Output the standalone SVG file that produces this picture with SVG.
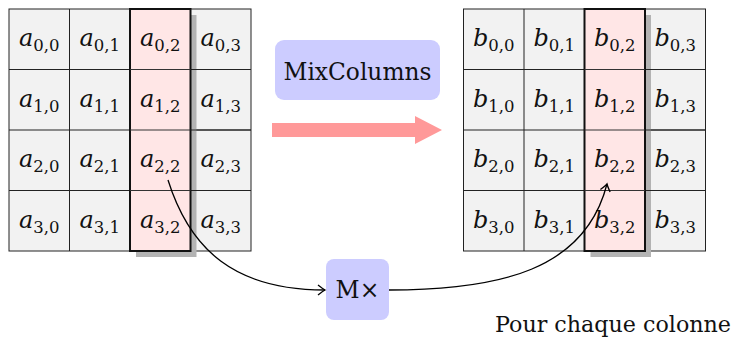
<svg xmlns="http://www.w3.org/2000/svg" width="735" height="340" viewBox="0 0 735 340">
<style>
.cell{fill:#f2f2f2;stroke:#222;stroke-width:1}
.hl{fill:#ffe6e6;stroke:#111;stroke-width:2}
.sh{fill:#b3b3b3}
.lab{font-family:'DejaVu Serif',serif;font-size:24px;text-anchor:middle;fill:#111}
.v{font-style:italic}
.s{font-size:16.5px}
.box{fill:#ccccff}
.bt{font-family:'DejaVu Serif',serif;font-size:23.5px;text-anchor:middle;fill:#111}
.con{fill:none;stroke:#000;stroke-width:1.3}
</style>
<defs>
<marker id="ah" markerUnits="userSpaceOnUse" markerWidth="14" markerHeight="14" viewBox="-8 -7 10 14" refX="0" refY="0" orient="auto">
<path d="M-7,-5 Q-2,-1 0,0 Q-2,1 -7,5" fill="none" stroke="#000" stroke-width="1.3"/>
</marker>
</defs>
<rect width="735" height="340" fill="#fff"/>
<g id="gridA">
<rect class="cell" x="9" y="9" width="242" height="242"/>
<path d="M69.5,9V251M130,9V251M190.5,9V251M9,69.5H251M9,130H251M9,190.5H251" stroke="#222" stroke-width="1" fill="none"/>
<rect class="sh" x="136" y="15" width="60.5" height="242"/>
<path d="M190.5,69.5H251M190.5,130H251M190.5,190.5H251" stroke="#222" stroke-width="1"/>
<rect class="hl" x="130" y="9" width="60.5" height="242"/>
<path d="M130,69.5H190.5M130,130H190.5M130,190.5H190.5" stroke="#333" stroke-width="1"/>
</g>
<g id="labelsA">
<text class="lab" x="39.25" y="46"><tspan class="v">a</tspan><tspan class="s" dy="5">0,0</tspan></text>
<text class="lab" x="99.75" y="46"><tspan class="v">a</tspan><tspan class="s" dy="5">0,1</tspan></text>
<text class="lab" x="160.25" y="46"><tspan class="v">a</tspan><tspan class="s" dy="5">0,2</tspan></text>
<text class="lab" x="220.75" y="46"><tspan class="v">a</tspan><tspan class="s" dy="5">0,3</tspan></text>
<text class="lab" x="39.25" y="106.5"><tspan class="v">a</tspan><tspan class="s" dy="5">1,0</tspan></text>
<text class="lab" x="99.75" y="106.5"><tspan class="v">a</tspan><tspan class="s" dy="5">1,1</tspan></text>
<text class="lab" x="160.25" y="106.5"><tspan class="v">a</tspan><tspan class="s" dy="5">1,2</tspan></text>
<text class="lab" x="220.75" y="106.5"><tspan class="v">a</tspan><tspan class="s" dy="5">1,3</tspan></text>
<text class="lab" x="39.25" y="167"><tspan class="v">a</tspan><tspan class="s" dy="5">2,0</tspan></text>
<text class="lab" x="99.75" y="167"><tspan class="v">a</tspan><tspan class="s" dy="5">2,1</tspan></text>
<text class="lab" x="160.25" y="167"><tspan class="v">a</tspan><tspan class="s" dy="5">2,2</tspan></text>
<text class="lab" x="220.75" y="167"><tspan class="v">a</tspan><tspan class="s" dy="5">2,3</tspan></text>
<text class="lab" x="39.25" y="227.5"><tspan class="v">a</tspan><tspan class="s" dy="5">3,0</tspan></text>
<text class="lab" x="99.75" y="227.5"><tspan class="v">a</tspan><tspan class="s" dy="5">3,1</tspan></text>
<text class="lab" x="160.25" y="227.5"><tspan class="v">a</tspan><tspan class="s" dy="5">3,2</tspan></text>
<text class="lab" x="220.75" y="227.5"><tspan class="v">a</tspan><tspan class="s" dy="5">3,3</tspan></text>
</g>
<g id="gridB">
<rect class="cell" x="463.5" y="9" width="242" height="242"/>
<path d="M524,9V251M584.5,9V251M645,9V251M463.5,69.5H705.5M463.5,130H705.5M463.5,190.5H705.5" stroke="#222" stroke-width="1" fill="none"/>
<rect class="sh" x="590.5" y="15" width="60.5" height="242"/>
<path d="M645,69.5H705.5M645,130H705.5M645,190.5H705.5" stroke="#222" stroke-width="1"/>
<rect class="hl" x="584.5" y="9" width="60.5" height="242"/>
<path d="M584.5,69.5H645M584.5,130H645M584.5,190.5H645" stroke="#333" stroke-width="1"/>
</g>
<g id="labelsB">
<text class="lab" x="493.75" y="46"><tspan class="v">b</tspan><tspan class="s" dy="5">0,0</tspan></text>
<text class="lab" x="554.25" y="46"><tspan class="v">b</tspan><tspan class="s" dy="5">0,1</tspan></text>
<text class="lab" x="614.75" y="46"><tspan class="v">b</tspan><tspan class="s" dy="5">0,2</tspan></text>
<text class="lab" x="675.25" y="46"><tspan class="v">b</tspan><tspan class="s" dy="5">0,3</tspan></text>
<text class="lab" x="493.75" y="106.5"><tspan class="v">b</tspan><tspan class="s" dy="5">1,0</tspan></text>
<text class="lab" x="554.25" y="106.5"><tspan class="v">b</tspan><tspan class="s" dy="5">1,1</tspan></text>
<text class="lab" x="614.75" y="106.5"><tspan class="v">b</tspan><tspan class="s" dy="5">1,2</tspan></text>
<text class="lab" x="675.25" y="106.5"><tspan class="v">b</tspan><tspan class="s" dy="5">1,3</tspan></text>
<text class="lab" x="493.75" y="167"><tspan class="v">b</tspan><tspan class="s" dy="5">2,0</tspan></text>
<text class="lab" x="554.25" y="167"><tspan class="v">b</tspan><tspan class="s" dy="5">2,1</tspan></text>
<text class="lab" x="614.75" y="167"><tspan class="v">b</tspan><tspan class="s" dy="5">2,2</tspan></text>
<text class="lab" x="675.25" y="167"><tspan class="v">b</tspan><tspan class="s" dy="5">2,3</tspan></text>
<text class="lab" x="493.75" y="227.5"><tspan class="v">b</tspan><tspan class="s" dy="5">3,0</tspan></text>
<text class="lab" x="554.25" y="227.5"><tspan class="v">b</tspan><tspan class="s" dy="5">3,1</tspan></text>
<text class="lab" x="614.75" y="227.5"><tspan class="v">b</tspan><tspan class="s" dy="5">3,2</tspan></text>
<text class="lab" x="675.25" y="227.5"><tspan class="v">b</tspan><tspan class="s" dy="5">3,3</tspan></text>
</g>
<g id="mixcolumns">
<rect class="box" x="275" y="40" width="165" height="60" rx="9"/>
<text class="bt" x="357.5" y="79.5" textLength="148" lengthAdjust="spacingAndGlyphs">MixColumns</text>
</g>
<g id="mx">
<rect class="box" x="326" y="259" width="63" height="61" rx="8"/>
<text class="bt" x="357.5" y="298">M×</text>
</g>
<g id="connectors">
<polygon points="272,123 415,123 415,116 442,130 415,144 415,137 272,137" fill="#ff9999"/>
<path class="con" d="M168,180 C190,250 235,290 325,290" marker-end="url(#ah)"/>
<path class="con" d="M389,290 C500,290 585,270 607,184" marker-end="url(#ah)"/>
</g>
<text x="495" y="332" font-family="'DejaVu Serif',serif" font-size="22" fill="#111" textLength="236" lengthAdjust="spacingAndGlyphs">Pour chaque colonne</text>
</svg>
